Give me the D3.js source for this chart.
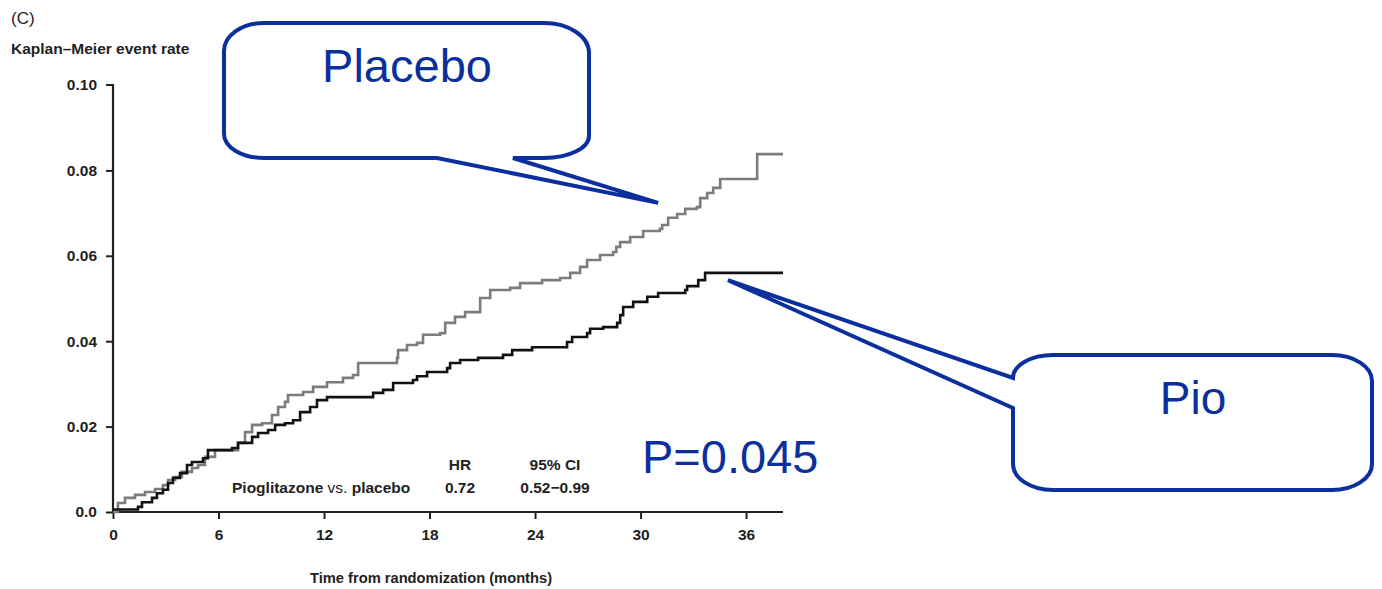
<!DOCTYPE html>
<html>
<head>
<meta charset="utf-8">
<script src="https://cdn.jsdelivr.net/npm/d3@7"></script>
<style>
  html, body { margin: 0; padding: 0; background: #fff; }
  svg { display: block; font-family: "Liberation Sans", Arial, sans-serif; }
</style>
</head>
<body>
<svg id="chart" width="1382" height="589"></svg>
<script>
// ---- data (months, Kaplan–Meier event rate) ----
const placeboTimes = [0, 0.28, 0.68, 1.25, 1.82, 2.39, 2.84, 3.13, 3.53, 3.92, 4.49, 4.84, 5.23, 5.80, 7.11, 7.51, 7.91, 8.48, 9.04, 9.39, 9.78, 9.95, 10.81, 11.38, 12.17, 13.08, 13.65, 13.94, 16.15, 16.21, 16.72, 17.29, 17.63, 18.60, 18.89, 19.45, 20.02, 20.88, 21.45, 22.58, 23.15, 24.40, 25.43, 26.00, 26.56, 26.96, 27.70, 28.44, 28.62, 28.84, 29.41, 30.15, 31.10, 31.23, 31.57, 32.08, 32.54, 33.20, 33.39, 33.79, 34.13, 34.53, 36.63, 38.1];
const placeboRates = [0, 0.0021, 0.0033, 0.0040, 0.0047, 0.0054, 0.0063, 0.0075, 0.0082, 0.0094, 0.0103, 0.0110, 0.0129, 0.0145, 0.0162, 0.0187, 0.0204, 0.0208, 0.0227, 0.0246, 0.0258, 0.0274, 0.0281, 0.0293, 0.0304, 0.0314, 0.0321, 0.0349, 0.0361, 0.0379, 0.0391, 0.0396, 0.0415, 0.0419, 0.0443, 0.0457, 0.0468, 0.0501, 0.0520, 0.0525, 0.0536, 0.0543, 0.0548, 0.0560, 0.0574, 0.0590, 0.0602, 0.0609, 0.0621, 0.0632, 0.0644, 0.0658, 0.0663, 0.0672, 0.0689, 0.0698, 0.0710, 0.0714, 0.0735, 0.0747, 0.0759, 0.0780, 0.0838, 0.0838];

const pioTimes = [0, 1.42, 1.65, 2.22, 2.50, 2.84, 3.13, 3.41, 3.81, 4.21, 4.49, 5.12, 5.40, 6.77, 7.11, 7.91, 8.25, 8.82, 9.22, 9.78, 10.24, 10.64, 11.21, 11.60, 12.17, 14.79, 15.36, 15.93, 17.06, 17.29, 17.86, 19.00, 19.17, 19.74, 20.76, 22.18, 22.70, 23.83, 25.82, 26.11, 26.96, 27.13, 27.87, 28.67, 28.84, 29.01, 29.58, 30.38, 31.00, 32.54, 32.65, 33.28, 33.67, 38.1];
const pioRates = [0.0006, 0.0012, 0.0023, 0.0033, 0.0044, 0.0052, 0.0068, 0.0080, 0.0091, 0.0110, 0.0117, 0.0126, 0.0145, 0.0150, 0.0162, 0.0176, 0.0185, 0.0192, 0.0204, 0.0208, 0.0215, 0.0234, 0.0246, 0.0262, 0.0269, 0.0279, 0.0286, 0.0302, 0.0309, 0.0318, 0.0328, 0.0337, 0.0349, 0.0356, 0.0361, 0.0368, 0.0379, 0.0386, 0.0398, 0.0410, 0.0419, 0.0429, 0.0433, 0.0443, 0.0461, 0.0480, 0.0492, 0.0504, 0.0513, 0.0520, 0.0529, 0.0543, 0.0560, 0.0560];

const xTicks = [0, 6, 12, 18, 24, 30, 36];
const yTicks = [0, 0.02, 0.04, 0.06, 0.08, 0.10];
const yTickLabels = ["0.0", "0.02", "0.04", "0.06", "0.08", "0.10"];

const panelLabel = "(C)";
const yTitle = "Kaplan\u2013Meier event rate";
const xTitle = "Time from randomization (months)";
const hrValue = "0.72";
const ciValue = "0.52\u22120.99";
const pText = "P=0.045";
const calloutLabels = ["Placebo", "Pio"];
const calloutTargets = [[31.0, 0.0724], [34.97, 0.0543]];

// ---- chart ----
const svg = d3.select("#chart");
const blue = "#0b309e";
const ink = "#222";

const x = d3.scaleLinear().domain([0, 38.1]).range([113, 783]);
const y = d3.scaleLinear().domain([0, 0.10]).range([512, 85]);

// y axis
const yAxis = d3.axisLeft(y).tickValues(yTicks)
  .tickFormat((d, i) => yTickLabels[i]).tickSize(7).tickPadding(9);
const gy = svg.append("g").attr("transform", "translate(113,0)").call(yAxis);
gy.select(".domain").attr("d", `M-7,${y(0.10)}H0V${y(0)}`).attr("stroke", ink).attr("stroke-width", 2.2);
gy.selectAll(".tick line").attr("stroke", ink).attr("stroke-width", 2);
gy.selectAll(".tick text").attr("font-size", 15.5).attr("font-weight", "bold").attr("fill", ink);
gy.selectAll(".tick").filter(d => d === 0.10).select("line").remove();

// x axis
const xAxis = d3.axisBottom(x).tickValues(xTicks).tickSize(7).tickPadding(10);
const gx = svg.append("g").attr("transform", "translate(0,512)").call(xAxis);
gx.select(".domain").attr("d", `M${x(0)},0H${x(38.1)}`).attr("stroke", ink).attr("stroke-width", 2.2);
gx.selectAll(".tick line").attr("stroke", ink).attr("stroke-width", 2);
gx.selectAll(".tick text").attr("font-size", 15.5).attr("font-weight", "bold").attr("fill", ink);

// curves
const line = d3.line().x(d => x(d[0])).y(d => y(d[1])).curve(d3.curveStepAfter);
const placebo = placeboTimes.map((t, i) => [t, placeboRates[i]]);
const pio = pioTimes.map((t, i) => [t, pioRates[i]]);
svg.append("path").datum(placebo).attr("d", line)
  .attr("fill", "none").attr("stroke", "#7c7c7c").attr("stroke-width", 2.6);
svg.append("path").datum(pio).attr("d", line)
  .attr("fill", "none").attr("stroke", "#111").attr("stroke-width", 2.6);

// titles
svg.append("text").attr("x", 11).attr("y", 24).attr("font-size", 17).attr("fill", ink).text(panelLabel);
svg.append("text").attr("x", 11).attr("y", 54).attr("font-size", 15.5).attr("font-weight", "bold").attr("fill", ink).text(yTitle);
svg.append("text").attr("x", 431).attr("y", 583).attr("text-anchor", "middle")
  .attr("font-size", 14.7).attr("font-weight", "bold").attr("fill", ink).text(xTitle);

// HR table
const tbl = svg.append("g").attr("font-size", 15.5).attr("fill", ink);
const t1 = tbl.append("text").attr("x", 232).attr("y", 493);
t1.append("tspan").attr("font-weight", "bold").text("Pioglitazone");
t1.append("tspan").text(" vs. ");
t1.append("tspan").attr("font-weight", "bold").text("placebo");
tbl.append("text").attr("x", 460).attr("y", 470).attr("text-anchor", "middle").attr("font-weight", "bold").text("HR");
tbl.append("text").attr("x", 460).attr("y", 493).attr("text-anchor", "middle").attr("font-weight", "bold").text(hrValue);
tbl.append("text").attr("x", 555).attr("y", 470).attr("text-anchor", "middle").attr("font-weight", "bold").text("95% CI");
tbl.append("text").attr("x", 555).attr("y", 493).attr("text-anchor", "middle").attr("font-weight", "bold").text(ciValue);

// P value
svg.append("text").attr("x", 642).attr("y", 473).attr("font-size", 47).attr("fill", blue).text(pText);

// callouts
const tip0 = [x(calloutTargets[0][0]), y(calloutTargets[0][1])];
const tip1 = [x(calloutTargets[1][0]), y(calloutTargets[1][1])];

// Placebo box
{
  const x0 = 224, y0 = 23, x1 = 589, y1 = 158;
  const d = `M${x0+40},${y0} H${x1-45} A45,30 0 0 1 ${x1},${y0+30} V${y1-22} A45,22 0 0 1 ${x1-45},${y1}` +
    ` H513 L${tip0[0]},${tip0[1]} L437,${y1} H${x0+40} A40,24 0 0 1 ${x0},${y1-24} V${y0+28} A40,28 0 0 1 ${x0+40},${y0} Z`;
  svg.append("path").attr("d", d).attr("fill", "none").attr("stroke", blue).attr("stroke-width", 4).attr("stroke-linejoin", "miter");
  svg.append("text").attr("x", 407).attr("y", 82).attr("text-anchor", "middle").attr("font-size", 47).attr("fill", blue).text(calloutLabels[0]);
}
// Pio box
{
  const x0 = 1013, y0 = 355, x1 = 1372, y1 = 490;
  const d = `M${x0+40},${y0} H${x1-40} A40,26 0 0 1 ${x1},${y0+26} V${y1-26} A40,26 0 0 1 ${x1-40},${y1}` +
    ` H${x0+40} A40,26 0 0 1 ${x0},${y1-26} V408 L${tip1[0]},${tip1[1]} L${x0},378 A40,23 0 0 1 ${x0+40},${y0} Z`;
  svg.append("path").attr("d", d).attr("fill", "none").attr("stroke", blue).attr("stroke-width", 4).attr("stroke-linejoin", "miter");
  svg.append("text").attr("x", 1193).attr("y", 414).attr("text-anchor", "middle").attr("font-size", 46).attr("fill", blue).text(calloutLabels[1]);
}
</script>
</body>
</html>
